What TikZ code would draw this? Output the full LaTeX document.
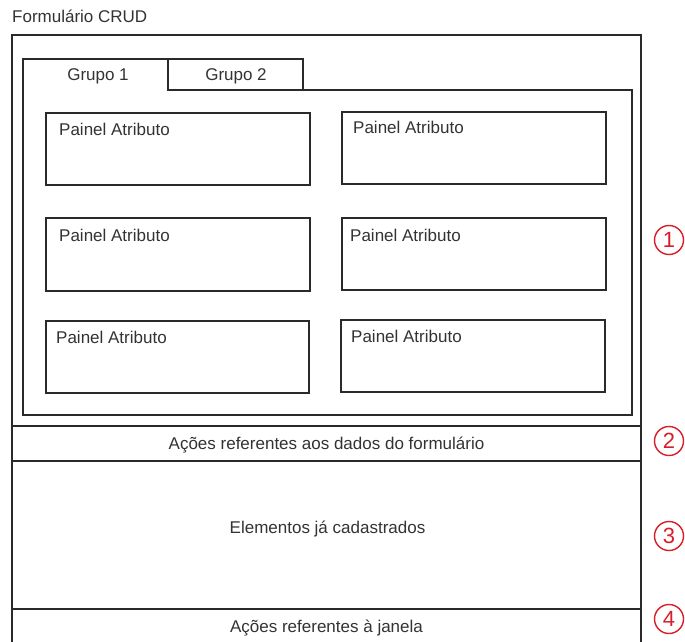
\documentclass[tikz,border=0pt]{standalone}
\usepackage{fontspec}
\setmainfont{Liberation Sans}
\definecolor{ink}{HTML}{2A2A2A}
\definecolor{txt}{HTML}{333333}
\definecolor{mark}{HTML}{D81E2A}
\begin{document}
\begin{tikzpicture}[x=1pt,y=-1pt,
  frame/.style={draw=ink,line width=1.2pt},
  box/.style={draw=ink,line width=1.2pt},
  lbl/.style={text=txt,font=\fontsize{17}{20}\selectfont,inner sep=0pt},
  badge/.style={circle,draw=mark,line width=1.4pt,minimum size=29pt,inner sep=0pt,
    text=mark,font=\fontsize{22}{24}\selectfont}]
  \useasboundingbox (0,0) rectangle (685,642);
  \clip (0,0) rectangle (685,642);
  \fill[white] (0,0) rectangle (685,642);

  % form title
  \node[lbl,anchor=base west] (title) at (12,22.5) {Formulário CRUD};

  % outer window frame and its horizontal sections
  \draw[frame] (12,650) -- (12,35) -- (641,35) -- (641,650);
  \draw[frame] (12,426) -- (641,426);
  \draw[frame] (12,461) -- (641,461);
  \draw[frame] (12,609) -- (641,609);

  % tabbed panel: active tab "Grupo 1" open towards the panel body
  \draw[frame] (23,415) -- (23,59) -- (168,59) -- (168,90) -- (632,90) -- (632,415) -- cycle;
  \draw[frame] (168,59) -- (303,59) -- (303,90);
  \node[lbl,anchor=base] (tab1) at (98,80.5) {Grupo 1};
  \node[lbl,anchor=base] (tab2) at (236,80.5) {Grupo 2};

  % attribute panels
  \draw[box] (46,113) rectangle (310,185);
  \draw[box] (342,112) rectangle (606,184);
  \draw[box] (46,218) rectangle (310,291);
  \draw[box] (342,218) rectangle (606,290);
  \draw[box] (46,321) rectangle (309,393);
  \draw[box] (341,320) rectangle (605,392);
  \node[lbl,anchor=base west] (p1) at (59,135) {Painel Atributo};
  \node[lbl,anchor=base west] (p2) at (353,133) {Painel Atributo};
  \node[lbl,anchor=base west] (p3) at (59,241) {Painel Atributo};
  \node[lbl,anchor=base west] (p4) at (350,241) {Painel Atributo};
  \node[lbl,anchor=base west] (p5) at (56,343) {Painel Atributo};
  \node[lbl,anchor=base west] (p6) at (351,342) {Painel Atributo};

  % section captions
  \node[lbl,anchor=base] (acoesdados) at (326.5,449) {Ações referentes aos dados do formulário};
  \node[lbl,anchor=base] (elementos) at (327.5,533) {Elementos já cadastrados};
  \node[lbl,anchor=base] (acoesjanela) at (326.5,632) {Ações referentes à janela};

  % numbered markers
  \node[badge] (m1) at (669,240) {1};
  \node[badge] (m2) at (669,441) {2};
  \node[badge] (m3) at (669,536) {3};
  \node[badge] (m4) at (669,619) {4};
\end{tikzpicture}
\end{document}
